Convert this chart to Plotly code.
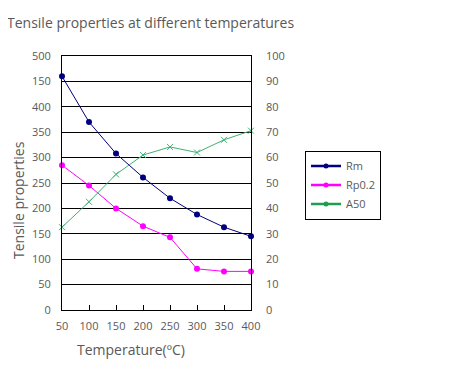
import plotly.graph_objects as go

temps = [50, 100, 150, 200, 250, 300, 350, 400]
rm = [460, 370, 308, 261, 220, 188, 163, 145]
rp02 = [285, 245, 200, 165, 143, 81, 76, 76]
a50 = [32.6, 42.6, 53.4, 61, 64.2, 62, 67, 70.6]

left_ticks = [0, 50, 100, 150, 200, 250, 300, 350, 400, 450, 500]
left_text = ["0", "50", "100", "150", "200", "250", "300", "350", "400", "150", "500"]
right_ticks = [0, 10, 20, 30, 40, 50, 60, 70, 80, 90, 100]
x_ticks = [50, 100, 150, 200, 250, 300, 350, 400]

NAVY = "#000080"
MAG = "#FF00FF"
GREEN = "#3cb371"
GREEN_LEG = "#1f9e50"
TXT = "#595959"

fig = go.Figure()
fig.add_trace(go.Scatter(x=temps, y=rm, mode="lines+markers", name="Rm",
                         line=dict(color=NAVY, width=1),
                         marker=dict(symbol="circle", size=6, color=NAVY),
                         showlegend=False, cliponaxis=False))
fig.add_trace(go.Scatter(x=temps, y=rp02, mode="lines+markers", name="Rp0.2",
                         line=dict(color=MAG, width=1),
                         marker=dict(symbol="circle", size=6, color=MAG),
                         showlegend=False, cliponaxis=False))
fig.add_trace(go.Scatter(x=temps, y=a50, mode="lines+markers", name="A50",
                         yaxis="y2",
                         line=dict(color=GREEN, width=1),
                         marker=dict(symbol="x-thin", size=6,
                                     line=dict(color=GREEN, width=1)),
                         showlegend=False, cliponaxis=False))

# legend entries
for nm, col in [("Rm", NAVY), ("Rp0.2", MAG), ("A50", GREEN_LEG)]:
    fig.add_trace(go.Scatter(x=[None], y=[None], mode="lines+markers", name=nm,
                             line=dict(color=col, width=2.5),
                             marker=dict(symbol="circle", size=5, color=col)))

# page body has an 8px default margin; compensate
OFF = 8
fig.update_layout(
    width=451 - OFF, height=367 - OFF,
    margin=dict(l=62 - OFF, r=200, t=56 - OFF, b=57),
    paper_bgcolor="white", plot_bgcolor="white",
    font=dict(family="Open Sans", size=11, color=TXT),
    showlegend=True,
    legend=dict(x=(305 - 62) / 189, y=(310 - 185) / 254, xanchor="left", yanchor="middle",
                bordercolor="black", borderwidth=1, bgcolor="white",
                font=dict(size=11, color=TXT), itemwidth=30,
                tracegroupgap=0),
    xaxis=dict(range=[50, 400], tickvals=x_ticks, ticks="inside", ticklen=5,
               tickcolor="black", showgrid=False, zeroline=False,
               showline=True, linecolor="black", linewidth=1, mirror=True,
               ticklabelstandoff=6, tickfont=dict(size=11, color=TXT)),
    yaxis=dict(range=[0, 500], tickvals=left_ticks, ticktext=left_text,
               showgrid=True, gridcolor="black", gridwidth=1, zeroline=False,
               showline=True, linecolor="black", linewidth=1, mirror=True,
               ticks="", ticklabelstandoff=8, tickfont=dict(size=11, color=TXT)),
    yaxis2=dict(range=[0, 100], tickvals=right_ticks, overlaying="y", side="right",
                showgrid=False, zeroline=False, showline=False, ticks="",
                ticklabelstandoff=14, tickfont=dict(size=11, color=TXT)),
    annotations=[
        dict(text="Tensile properties at different temperatures", xref="paper", yref="paper",
             x=-57 / 189, y=(310 - 22) / 254, xanchor="left", yanchor="middle",
             showarrow=False, font=dict(size=14, color=TXT)),
        dict(text="Temperature(ºC)", xref="paper", yref="paper",
             x=(131 - 62) / 189, y=(310 - 349) / 254, xanchor="center", yanchor="middle",
             showarrow=False, font=dict(size=14, color=TXT)),
        dict(text="Tensile properties", xref="paper", yref="paper",
             x=(18 - 62) / 189, y=(310 - 200) / 254, xanchor="center", yanchor="middle",
             textangle=-90, showarrow=False, font=dict(size=14, color=TXT)),
    ],
)

fig.write_html("out.html")
